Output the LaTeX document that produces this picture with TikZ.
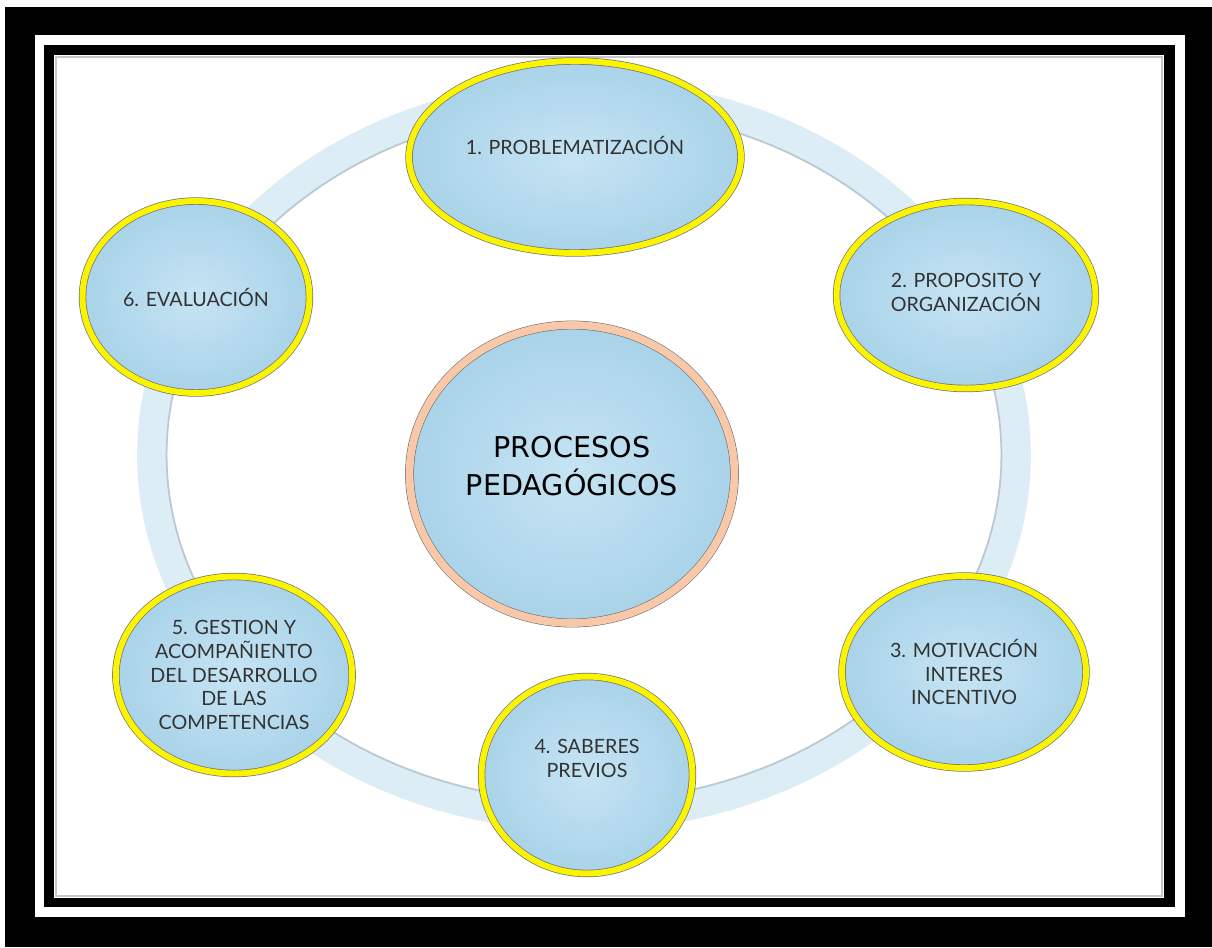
\documentclass[tikz,border=0pt]{standalone}
\usepackage{fontspec}
\setmainfont{Lato}
\newfontfamily\centrofont{DejaVu Sans}
\usetikzlibrary{shapes.geometric}

\definecolor{anillo}{HTML}{DDEDF6}
\definecolor{anillosombra}{HTML}{BAC8D2}
\definecolor{celeste}{HTML}{C6E4F3}
\definecolor{celesteborde}{HTML}{A9D3E9}
\definecolor{amarillo}{HTML}{FAF400}
\definecolor{durazno}{HTML}{F8C8A8}

\tikzset{
  paso/.style={ellipse, inner sep=0pt, align=center, text=black!80,
    font=\fontsize{11.2}{13.6}\selectfont,
    inner color=celeste, outer color=celesteborde,
    draw=black!55, line width=.4pt, double=amarillo, double distance=3.4pt},
  centro/.style={ellipse, inner sep=0pt, align=center, text=black,
    font=\centrofont\fontsize{16.3}{21.5}\selectfont,
    inner color=celeste, outer color=celesteborde,
    draw=black!60, line width=.3pt, double=durazno, double distance=4.4pt}
}

\begin{document}
\begin{tikzpicture}[x=0.02cm,y=-0.02cm]
  % marco negro y blanco
  \fill[white] (0,0) rectangle (1212,947);
  \fill[black] (5,7) rectangle (1212,947);
  \fill[white] (35,35) rectangle (1185,917);
  \fill[black] (44,45) rectangle (1175,907);
  \fill[white] (54,55) rectangle (1164,898);
  \draw[black!22, line width=1.5pt] (56,57) rectangle (1162,896);

  % anillo de fondo
  \draw[anillo, line width=17pt] (584,455) ellipse (8.64cm and 7.22cm);
  \draw[anillosombra, line width=1pt] (584,455) ellipse (8.35cm and 6.93cm);

  % los seis pasos
  \node[paso, minimum width=6.64cm, minimum height=3.84cm] (prob) at (575,157) {1. PROBLEMATIZACIÓN\\\mbox{}};
  \node[paso, minimum width=5.18cm, minimum height=3.74cm] (prop) at (966,295) {\mbox{}\\[-8pt]2. PROPOSITO Y\\ORGANIZACIÓN};
  \node[paso, minimum width=4.88cm, minimum height=3.84cm] (motiv) at (964,672) {3. MOTIVACIÓN\\INTERES\\INCENTIVO};
  \node[paso, minimum width=4.22cm, minimum height=3.94cm] (saberes) at (587,775) {4. SABERES\\PREVIOS\\[5pt]\mbox{}};
  \node[paso, minimum width=4.58cm, minimum height=3.94cm] (gestion) at (234,675) {5. GESTION Y\\ACOMPAÑIENTO\\DEL DESARROLLO\\DE LAS\\COMPETENCIAS};
  \node[paso, minimum width=4.54cm, minimum height=3.84cm] (eval) at (196,297) {6. EVALUACIÓN};

  % centro
  \node[centro, minimum width=6.5cm, minimum height=5.96cm] (procesos) at (572,474) {PROCESOS\\PEDAGÓGICOS\\[-12pt]\mbox{}};
\end{tikzpicture}
\end{document}
